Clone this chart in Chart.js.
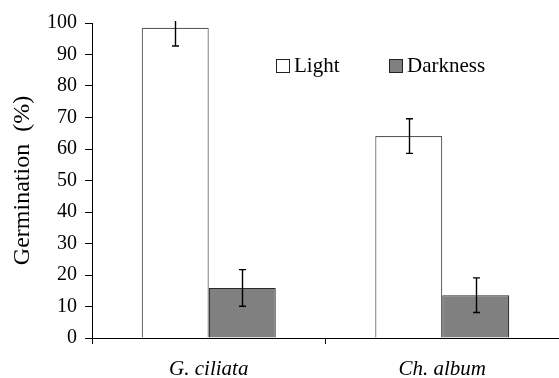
<!DOCTYPE html>
<html>
<head>
<meta charset="utf-8">
<script src="https://cdn.jsdelivr.net/npm/chart.js@4"></script>
<style>
  html, body { margin: 0; padding: 0; background: #fff; }
  canvas { display: block; }
</style>
</head>
<body>
<canvas id="germChart" width="559" height="378"></canvas>
<script>
// germination under light / darkness
const categories = ['G. ciliata', 'Ch. album'];
const seriesNames = ['Light', 'Darkness'];
const lightValues = [98.5, 64.1];
const darkValues = [15.9, 13.6];
const lightErrors = [5.8, 5.5];
const darkErrors = [5.8, 5.5];
const yTicks = [0, 10, 20, 30, 40, 50, 60, 70, 80, 90, 100];

const serif = "'Liberation Serif', 'Times New Roman', serif";

// error bars, drawn from the bar elements
const errorBars = {
  id: 'errorBars',
  afterDatasetsDraw(chart) {
    const ctx = chart.ctx;
    const y = chart.scales.y;
    const top = chart.chartArea.top - 2;
    ctx.save();
    ctx.strokeStyle = '#000';
    ctx.lineWidth = 1.4;
    chart.data.datasets.forEach((ds, di) => {
      const meta = chart.getDatasetMeta(di);
      meta.data.forEach((bar, i) => {
        const v = ds.data[i], e = ds.errors[i];
        let yHi = y.getPixelForValue(v + e);
        const yLo = y.getPixelForValue(v - e);
        const clipped = yHi < top;
        if (clipped) yHi = top;
        const x = Math.round(bar.x) + 0.5;
        ctx.beginPath();
        ctx.moveTo(x, yHi); ctx.lineTo(x, yLo);
        if (!clipped) { ctx.moveTo(x - 3.5, yHi); ctx.lineTo(x + 3.5, yHi); }
        ctx.moveTo(x - 3.5, yLo); ctx.lineTo(x + 3.5, yLo);
        ctx.stroke();
      });
    });
    ctx.restore();
  }
};

// legend inside the plot, like the original
const insideLegend = {
  id: 'insideLegend',
  afterDraw(chart) {
    const ctx = chart.ctx;
    const spots = [276, 389];
    ctx.save();
    ctx.font = '21px ' + serif;
    ctx.textBaseline = 'middle';
    chart.data.datasets.forEach((ds, i) => {
      const x = spots[i];
      ctx.fillStyle = ds.backgroundColor;
      ctx.fillRect(x + 0.5, 59.5, 13, 13);
      ctx.strokeStyle = '#222';
      ctx.lineWidth = 1;
      ctx.strokeRect(x + 0.5, 59.5, 13, 13);
      ctx.fillStyle = '#000';
      ctx.fillText(ds.label, x + 18, 66);
    });
    ctx.restore();
  }
};

new Chart(document.getElementById('germChart').getContext('2d'), {
  type: 'bar',
  data: {
    labels: categories,
    datasets: [
      { label: seriesNames[0], data: lightValues, errors: lightErrors,
        backgroundColor: '#ffffff', borderColor: '#5a5a5a', borderWidth: 1.2 },
      { label: seriesNames[1], data: darkValues, errors: darkErrors,
        backgroundColor: '#808080', borderColor: '#2a2a2a', borderWidth: 1.2 }
    ]
  },
  options: {
    responsive: false,
    animation: false,
    layout: { padding: { top: 23, right: 0, left: 0, bottom: 0 } },
    datasets: { bar: { categoryPercentage: 0.574, barPercentage: 1.0 } },
    plugins: { legend: { display: false }, tooltip: { enabled: false } },
    scales: {
      x: {
        grid: { display: true, drawOnChartArea: false, drawTicks: true, tickLength: 6, color: '#000', offset: true },
        border: { color: '#000', width: 1 },
        ticks: { color: '#000', padding: 13, font: { family: serif, size: 21, style: 'italic' } },
        afterFit(s) { s.height = 40; }
      },
      y: {
        min: 0, max: 100,
        afterBuildTicks(s) { s.ticks = yTicks.map(v => ({ value: v })); },
        grid: { display: true, drawOnChartArea: false, drawTicks: true, tickLength: 7, color: '#000' },
        border: { color: '#000', width: 1 },
        ticks: { color: '#000', padding: 8, font: { family: serif, size: 20 } },
        title: { display: true, text: 'Germination  (%)', color: '#000', padding: { top: 8, bottom: 0 },
                 font: { family: serif, size: 24 } },
        afterFit(s) { s.width = 92; }
      }
    }
  },
  plugins: [errorBars, insideLegend]
});
</script>
</body>
</html>
